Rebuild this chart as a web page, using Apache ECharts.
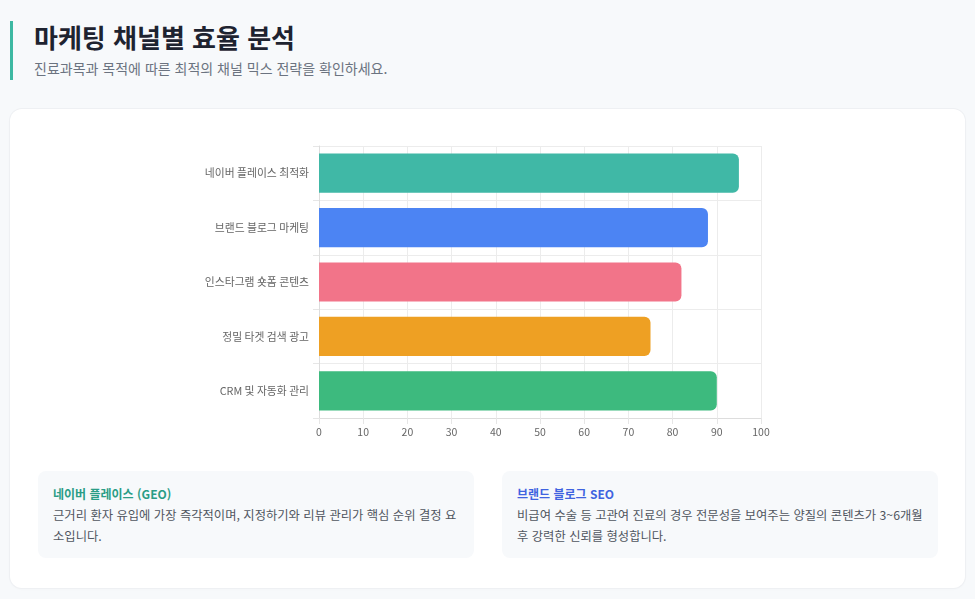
<!DOCTYPE html>
<html lang="ko">
<head>
<meta charset="utf-8">
<script src="https://cdn.jsdelivr.net/npm/echarts@6/dist/echarts.min.js"></script>
<style>
    html, body { margin: 0; padding: 0; }
    body {
        width: 975px; height: 599px; overflow: hidden; position: relative;
        background: #f7f9fb;
        font-family: "Noto Sans CJK KR", "Noto Sans", sans-serif;
    }
    .head { position: absolute; left: 10px; top: 21px; height: 59px; border-left: 3px solid #3db8a2; padding-left: 21px; }
    .head h1 { margin: 0; font-size: 26px; line-height: 32px; font-weight: 700; color: #1e2330; }
    .head p { margin: 5px 0 0; font-size: 14px; line-height: 20px; color: #6b7380; }
    .card {
        position: absolute; left: 10px; top: 109px; width: 955px; height: 479px;
        background: #fff; border-radius: 12px; box-shadow: 0 0 0 1px #eef0f3, 0 1px 3px rgba(0,0,0,0.03);
    }
    #lines { position: absolute; left: 0; top: 0; width: 955px; height: 345px; }
    .note {
        position: absolute; top: 362px; width: 406px; height: 87px; padding: 0 15px;
        box-sizing: content-box; background: #f7f9fb; border-radius: 8px;
    }
    .note h3 { margin: 14px 0 0; font-size: 12px; line-height: 18px; font-weight: 700; }
    .note p { margin: 2px 0 0; font-size: 12.3px; line-height: 21px; color: #50565f; }
</style>
</head>
<body>
<div class="head">
    <h1>마케팅 채널별 효율 분석</h1>
    <p>진료과목과 목적에 따른 최적의 채널 믹스 전략을 확인하세요.</p>
</div>
<div class="card">
    <div id="lines"></div>
    <div class="note" style="left:28px">
        <h3 style="color:#2a9d86">네이버 플레이스 (GEO)</h3>
        <p>근거리 환자 유입에 가장 즉각적이며, 지정하기와 리뷰 관리가 핵심 순위 결정 요소입니다.</p>
    </div>
    <div class="note" style="left:492px">
        <h3 style="color:#3f63e0">브랜드 블로그 SEO</h3>
        <p>비급여 수술 등 고관여 진료의 경우 전문성을 보여주는 양질의 콘텐츠가 3~6개월 후 강력한 신뢰를 형성합니다.</p>
    </div>
</div>
<script>
// 채널별 효율 점수
var channels = ['네이버 플레이스 최적화', '브랜드 블로그 마케팅', '인스타그램 숏폼 콘텐츠', '정밀 타겟 검색 광고', 'CRM 및 자동화 관리'];
var scores = [95, 88, 82, 75, 90];
var barColors = ['#40b8a6', '#4c84f3', '#f27489', '#eea023', '#3dba7e'];

var myChart = echarts.init(document.getElementById('lines'));
var dataInt = [];
for (var i = 0; i < scores.length; i++) {
    dataInt.push({ value: scores[i], itemStyle: { color: barColors[i] } });
}
myChart.setOption({
    animation: false,
    textStyle: { fontFamily: 'Noto Sans CJK KR' },
    grid: { left: 309, right: 204, top: 37, bottom: 36, containLabel: false },
    xAxis: {
        type: 'value',
        min: 0, max: 100, interval: 10,
        axisLine: { show: true, lineStyle: { color: '#dddddd' } },
        axisTick: { show: true, length: 6, lineStyle: { color: '#e6e6e6' } },
        axisLabel: { color: '#666', fontSize: 10.5, margin: 9 },
        splitLine: { show: true, lineStyle: { color: '#ececec' } }
    },
    yAxis: {
        type: 'category',
        inverse: true,
        data: channels,
        axisLine: { show: true, lineStyle: { color: '#dddddd' } },
        axisTick: { show: true, length: 6, lineStyle: { color: '#e6e6e6' } },
        axisLabel: { color: '#666', fontSize: 10.8, margin: 10 },
        splitLine: { show: true, lineStyle: { color: '#ececec' } }
    },
    series: [{
        type: 'bar',
        data: dataInt,
        barWidth: '72%',
        itemStyle: { borderRadius: [0, 6, 6, 0] }
    }]
});
</script>
</body>
</html>
